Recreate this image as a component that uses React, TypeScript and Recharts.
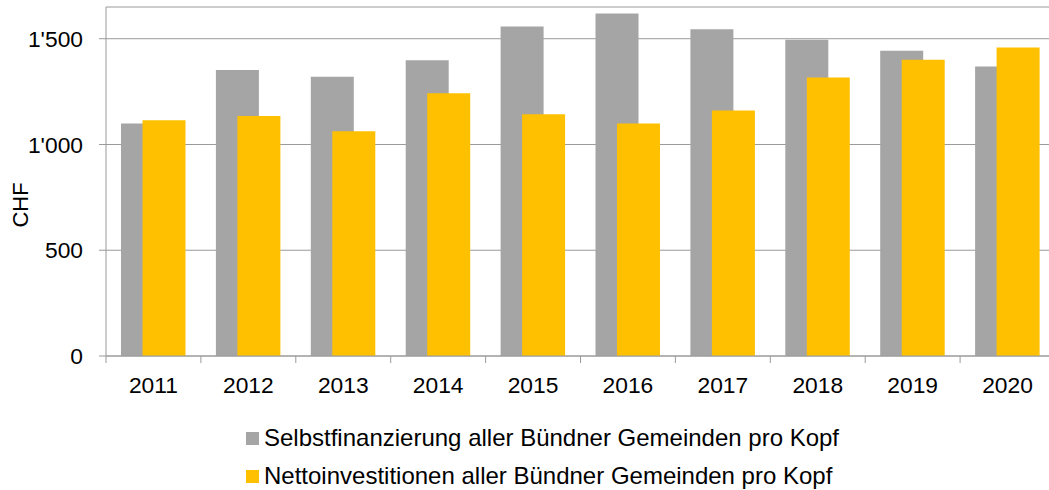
import React from 'react';
import { BarChart, Bar, XAxis, YAxis, CartesianGrid, Legend, Label } from 'recharts';

const years = ['2011', '2012', '2013', '2014', '2015', '2016', '2017', '2018', '2019', '2020'];
const selbstfinanzierung = [1099, 1352, 1320, 1398, 1558, 1619, 1545, 1495, 1443, 1369];
const nettoinvestitionen = [1114, 1135, 1063, 1242, 1143, 1099, 1161, 1317, 1401, 1459];
const yTicks = [0, 500, 1000, 1500];
const seriesNames = [
  'Selbstfinanzierung aller Bündner Gemeinden pro Kopf',
  'Nettoinvestitionen aller Bündner Gemeinden pro Kopf',
];
const seriesColors = ['#A5A5A5', '#FFC000'];

const data = years.map((y, i) => ({
  year: y,
  selbst: selbstfinanzierung[i],
  netto: nettoinvestitionen[i],
}));

const FONT = '"Liberation Sans", Arial, sans-serif';
const AXIS_COLOR = '#9a9a9a';
const TICK_SIZE = 7;
const X_TICK_MARGIN = 14;

const fmt = (v: number) => {
  const s = String(Math.round(v));
  return s.replace(/\B(?=(\d{3})+(?!\d))/g, "'");
};

const XTick = (props: any) => {
  const { x, y, payload } = props;
  const off = payload && typeof payload.offset === 'number' ? payload.offset : 47.45;
  const axisY = y - TICK_SIZE - X_TICK_MARGIN;
  const lx = x - off;
  return (
    <g>
      <line x1={lx} x2={lx} y1={axisY} y2={axisY + TICK_SIZE} stroke={AXIS_COLOR} strokeWidth={1} />
      <text x={x} y={y} dy="0.71em" textAnchor="middle" fill="#000" fontSize={22.8} fontFamily={FONT}>
        {payload.value}
      </text>
    </g>
  );
};

const YTick = (props: any) => {
  const { x, y, payload } = props;
  return (
    <text x={x} y={y} dy="0.355em" textAnchor="end" fill="#000" fontSize={22.8} fontFamily={FONT}>
      {fmt(payload.value)}
    </text>
  );
};

const LegendContent = () => (
  <div style={{ fontFamily: FONT, fontSize: 24, color: '#000' }}>
    {seriesNames.map((n, i) => (
      <div key={n} style={{ display: 'flex', alignItems: 'center', height: 38, whiteSpace: 'nowrap' }}>
        <span style={{ display: 'inline-block', width: 13, height: 13, background: seriesColors[i], marginRight: 5 }} />
        <span>{n}</span>
      </div>
    ))}
  </div>
);

export default function App() {
  return (
    <div style={{ position: 'absolute', left: 0, top: 0, width: 1049, height: 490, overflow: 'hidden', background: '#fff' }}>
      <BarChart
        width={1060}
        height={490}
        data={data}
        margin={{ top: 7, right: 5, left: 0, bottom: 94 }}
        barGap={-21.5}
        style={{ fontFamily: FONT }}
      >
        <CartesianGrid vertical={false} stroke={AXIS_COLOR} strokeWidth={1} />
        <XAxis
          dataKey="year"
          height={40}
          tickLine={false}
          tickSize={TICK_SIZE}
          tickMargin={X_TICK_MARGIN}
          stroke={AXIS_COLOR}
          tick={<XTick />}
          interval={0}
        />
        <YAxis
          width={106}
          domain={[0, 1650]}
          ticks={yTicks}
          tickSize={TICK_SIZE}
          tickMargin={16}
          stroke={AXIS_COLOR}
          tick={<YTick />}
          allowDataOverflow
        >
          <Label
            content={() => (
              <text
                x={20}
                y={205}
                transform="rotate(-90, 20, 205)"
                textAnchor="middle"
                dominantBaseline="central"
                fontSize={22}
                fontFamily={FONT}
                fill="#000"
              >
                CHF
              </text>
            )}
          />
        </YAxis>
        <Legend
          verticalAlign="middle"
          align="center"
          layout="horizontal"
          content={<LegendContent />}
          wrapperStyle={{ top: 419, left: 246, width: 700, height: 76 }}
        />
        <Bar dataKey="selbst" name={seriesNames[0]} fill={seriesColors[0]} barSize={43} isAnimationActive={false} />
        <Bar dataKey="netto" name={seriesNames[1]} fill={seriesColors[1]} barSize={43} isAnimationActive={false} />
      </BarChart>
    </div>
  );
}
